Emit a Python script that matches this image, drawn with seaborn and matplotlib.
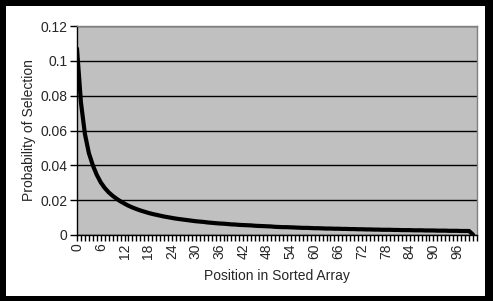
import matplotlib
matplotlib.use("Agg")
import matplotlib.pyplot as plt
import seaborn as sns
import pandas as pd
from matplotlib.ticker import FixedLocator, MultipleLocator
from matplotlib.patches import Rectangle

# ---- data ----
positions = list(range(101))
probability = [
    0.1070, 0.0760, 0.0580, 0.0470, 0.0400, 0.0345, 0.0302, 0.0270, 0.0245, 0.0225,
    0.0208, 0.0193, 0.0180, 0.0168, 0.0158, 0.0149, 0.0141, 0.0134, 0.0127, 0.0121,
    0.0116, 0.0111, 0.0106, 0.0102, 0.0098, 0.0094, 0.0091, 0.0088, 0.0085, 0.0082,
    0.0079, 0.0077, 0.0075, 0.0072, 0.0070, 0.0068, 0.0066, 0.0065, 0.0063, 0.0061,
    0.0060, 0.0058, 0.0057, 0.0056, 0.0055, 0.0053, 0.0052, 0.0051, 0.0050, 0.0049,
    0.0047, 0.0046, 0.0045, 0.0045, 0.0044, 0.0043, 0.0042, 0.0041, 0.0041, 0.0040,
    0.0039, 0.0039, 0.0038, 0.0037, 0.0037, 0.0036, 0.0036, 0.0035, 0.0035, 0.0034,
    0.0034, 0.0033, 0.0033, 0.0032, 0.0032, 0.0031, 0.0031, 0.0030, 0.0030, 0.0030,
    0.0029, 0.0029, 0.0028, 0.0028, 0.0028, 0.0027, 0.0027, 0.0027, 0.0026, 0.0026,
    0.0026, 0.0025, 0.0025, 0.0025, 0.0024, 0.0024, 0.0024, 0.0023, 0.0023, 0.0023,
    0.0002,
]
x_tick_values = list(range(0, 97, 6))
x_tick_labels = [str(v) for v in x_tick_values]
y_tick_values = [0, 0.02, 0.04, 0.06, 0.08, 0.1, 0.12]
y_tick_labels = ["0", "0.02", "0.04", "0.06", "0.08", "0.1", "0.12"]
x_title = "Position in Sorted Array"
y_title = "Probability of Selection"

df = pd.DataFrame({"position": positions, "probability": probability})

sns.set_style("white")
plt.rcParams["font.family"] = ["Liberation Sans", "DejaVu Sans"]

W, H = 493, 301
fig = plt.figure(figsize=(W / 100, H / 100), dpi=100)
fig.patch.set_facecolor("black")
fig.add_artist(Rectangle((6 / W, 5 / H), (485 - 6) / W, (296 - 6) / H,
                         transform=fig.transFigure, facecolor="white",
                         edgecolor="none", zorder=-10))

ax = fig.add_axes([77 / W, 1 - 235 / H, (477 - 77) / W, (235 - 26) / H])
sns.lineplot(data=df, x="position", y="probability", ax=ax,
             color="black", linewidth=3)

ax.set_facecolor("#C0C0C0")
ax.set_xlim(0, 101)
ax.set_ylim(0, 0.12)

ax.yaxis.set_major_locator(FixedLocator(y_tick_values))
ax.set_yticklabels(y_tick_labels, fontsize=10)
ax.xaxis.set_major_locator(FixedLocator(x_tick_values))
ax.set_xticklabels(x_tick_labels, rotation=90, fontsize=10)
ax.xaxis.set_minor_locator(MultipleLocator(1))

ax.tick_params(axis="y", which="major", direction="out", length=5, width=1,
               color="black", pad=2, left=True)
ax.tick_params(axis="x", which="both", direction="out", length=4, width=1,
               color="black", pad=2, bottom=True)

ax.grid(axis="y", color="black", linewidth=1)
ax.grid(axis="x", visible=False)
ax.set_axisbelow(True)

for side in ["left", "bottom"]:
    ax.spines[side].set_color("black")
    ax.spines[side].set_linewidth(1)
for side in ["top", "right"]:
    ax.spines[side].set_visible(True)
    ax.spines[side].set_color("#808080")
    ax.spines[side].set_linewidth(1)

ax.set_xlabel(x_title, fontsize=10, labelpad=7)
ax.set_ylabel(y_title, fontsize=10, labelpad=3)

fig.savefig("out.png", dpi=100, facecolor=fig.get_facecolor())
